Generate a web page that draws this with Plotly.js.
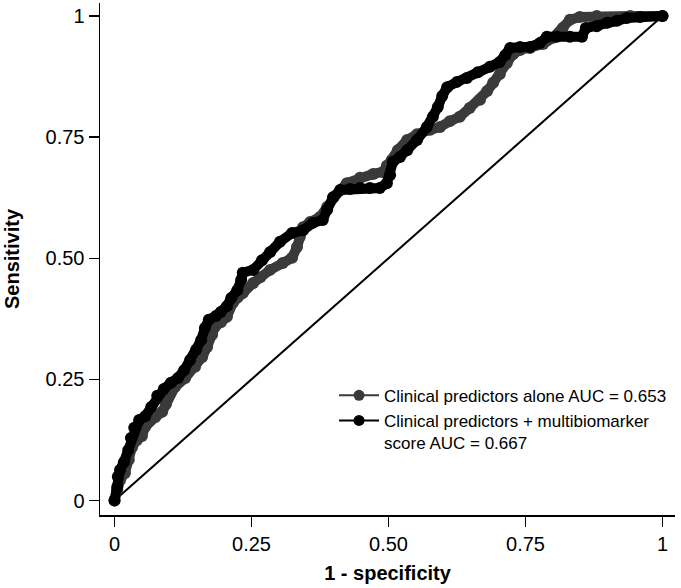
<!DOCTYPE html>
<html>
<head>
<meta charset="utf-8">
<script src="https://cdn.plot.ly/plotly-3.0.1.min.js"></script>
<style>
html,body{margin:0;padding:0;background:#fff;}
#chart{width:681px;height:588px;}
</style>
</head>
<body>
<div id="chart"></div>
<script>
// 1 - specificity (x) and sensitivity (y)
const fprAlone = [0,0.005,0.010,0.019,0.026,0.032,0.041,0.050,0.056,0.065,0.074,0.087,0.094,0.099,0.110,0.129,0.147,0.160,0.169,0.178,0.183,0.194,0.205,0.216,0.225,0.234,0.253,0.266,0.284,0.307,0.324,0.333,0.338,0.344,0.357,0.375,0.388,0.399,0.412,0.424,0.448,0.472,0.490,0.497,0.506,0.517,0.534,0.552,0.576,0.594,0.612,0.630,0.648,0.667,0.680,0.691,0.703,0.716,0.727,0.740,0.758,0.782,0.800,0.818,0.831,0.849,0.880,0.941,1];
const tprAlone = [0,0.022,0.042,0.057,0.084,0.110,0.125,0.133,0.152,0.166,0.172,0.183,0.199,0.216,0.234,0.253,0.276,0.296,0.317,0.342,0.358,0.368,0.379,0.408,0.420,0.428,0.449,0.461,0.476,0.490,0.501,0.523,0.544,0.564,0.575,0.585,0.606,0.626,0.641,0.655,0.666,0.674,0.678,0.691,0.703,0.723,0.744,0.756,0.765,0.771,0.783,0.792,0.810,0.827,0.845,0.862,0.880,0.903,0.921,0.930,0.934,0.942,0.955,0.975,0.992,0.998,1,1,1];

const fprCombined = [0,0.005,0.006,0.010,0.017,0.025,0.030,0.036,0.045,0.056,0.067,0.078,0.090,0.103,0.116,0.127,0.138,0.149,0.158,0.165,0.172,0.185,0.194,0.205,0.213,0.224,0.231,0.234,0.253,0.269,0.284,0.302,0.324,0.344,0.362,0.380,0.388,0.399,0.412,0.430,0.448,0.466,0.484,0.497,0.503,0.508,0.521,0.534,0.552,0.570,0.581,0.590,0.598,0.607,0.625,0.643,0.663,0.685,0.703,0.713,0.722,0.740,0.758,0.776,0.789,0.807,0.831,0.853,0.860,0.880,0.899,0.917,0.935,0.959,1];
const tprCombined = [0,0.028,0.049,0.063,0.079,0.104,0.129,0.150,0.166,0.174,0.193,0.216,0.230,0.243,0.253,0.269,0.290,0.311,0.331,0.356,0.373,0.381,0.389,0.401,0.418,0.434,0.455,0.470,0.476,0.496,0.513,0.534,0.552,0.558,0.573,0.579,0.600,0.626,0.641,0.643,0.645,0.645,0.645,0.655,0.672,0.699,0.709,0.723,0.744,0.771,0.792,0.812,0.835,0.853,0.864,0.872,0.884,0.895,0.905,0.919,0.934,0.936,0.936,0.944,0.957,0.957,0.957,0.957,0.975,0.979,0.986,0.990,0.996,0.998,1];

const refX = [0, 1];
const refY = [0, 1];

const seriesNames = ["Clinical predictors alone AUC = 0.653", "Clinical predictors + multibiomarker<br>score AUC = 0.667"];
const seriesColors = ["#3a3a3a", "#000000"];

const tickVals = [0, 0.25, 0.5, 0.75, 1];
const tickText = ["0", "0.25", "0.50", "0.75", "1"];

const data = [
  {x: refX, y: refY, mode: "lines", line: {color: "#000", width: 2}, showlegend: false, hoverinfo: "skip"},
  {x: fprAlone, y: tprAlone, mode: "lines+markers", line: {color: seriesColors[0], width: 10}, marker: {color: seriesColors[0], size: 12}, showlegend: false},
  {x: fprCombined, y: tprCombined, mode: "lines+markers", line: {color: seriesColors[1], width: 10}, marker: {color: seriesColors[1], size: 12}, showlegend: false},
  {x: [null], y: [null], name: seriesNames[0], mode: "lines+markers", line: {color: seriesColors[0], width: 2}, marker: {color: seriesColors[0], size: 11}},
  {x: [null], y: [null], name: seriesNames[1], mode: "lines+markers", line: {color: seriesColors[1], width: 2}, marker: {color: seriesColors[1], size: 11}}
];

const axisCommon = {
  tickvals: tickVals, ticktext: tickText,
  showgrid: false, zeroline: false,
  showline: true, linecolor: "#000", linewidth: 1.5,
  ticks: "outside", ticklen: 10, tickwidth: 1.5, tickcolor: "#000",
  tickfont: {family: "Liberation Sans, Arial, sans-serif", size: 20, color: "#000"}
};

const layout = {
  width: 681, height: 588,
  paper_bgcolor: "#fff", plot_bgcolor: "#fff",
  margin: {l: 100, r: 6, t: 3, b: 73},
  font: {family: "Liberation Sans, Arial, sans-serif", color: "#000"},
  xaxis: Object.assign({}, axisCommon, {
    range: [-0.0265, 1.0228],
    title: {text: "<b>1 - specificity</b>", font: {size: 20, color: "#000"}, standoff: 12}
  }),
  yaxis: Object.assign({}, axisCommon, {
    range: [-0.0299, 1.0268],
    title: {text: "<b>Sensitivity</b>", font: {size: 20, color: "#000"}, standoff: 20}
  }),
  legend: {
    x: 0.407, y: 0.268, xanchor: "left", yanchor: "top",
    bgcolor: "rgba(0,0,0,0)", borderwidth: 0,
    font: {size: 17, color: "#000", family: "Liberation Sans, Arial, sans-serif"},
    valign: "top", tracegroupgap: 0, itemwidth: 40
  },
  showlegend: true
};

Plotly.newPlot("chart", data, layout, {displayModeBar: false, staticPlot: true});
</script>
</body>
</html>
